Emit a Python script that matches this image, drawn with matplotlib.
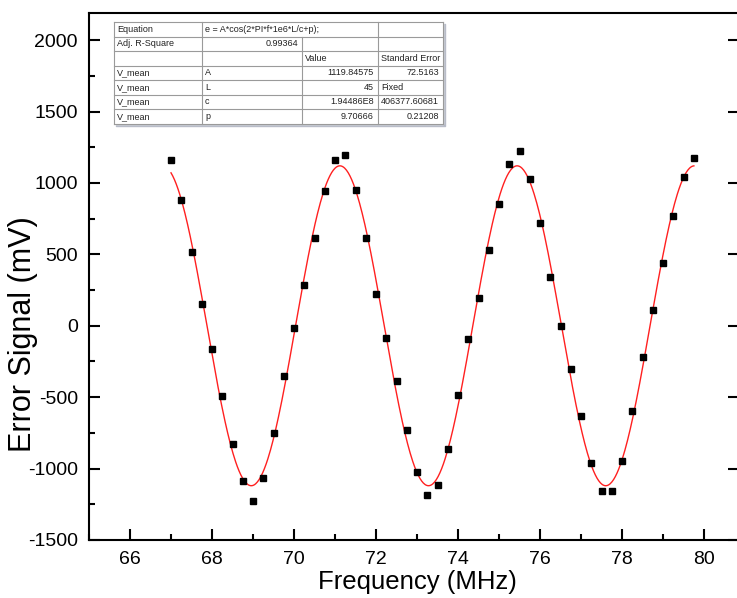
import numpy as np
import matplotlib
matplotlib.use("Agg")
import matplotlib.pyplot as plt
from matplotlib.ticker import MultipleLocator

plt.rcParams['font.family'] = ['Liberation Sans', 'DejaVu Sans']
plt.rcParams['axes.unicode_minus'] = False

# measured points (MHz, mV)
freq = [67.0, 67.25, 67.5, 67.75, 68.0, 68.25, 68.5, 68.75, 69.0, 69.25, 69.5, 69.75,
        70.0, 70.25, 70.5, 70.75, 71.0, 71.25, 71.5, 71.75, 72.0, 72.25, 72.5, 72.75,
        73.0, 73.25, 73.5, 73.75, 74.0, 74.25, 74.5, 74.75, 75.0, 75.25, 75.5, 75.75,
        76.0, 76.25, 76.5, 76.75, 77.0, 77.25, 77.5, 77.75, 78.0, 78.25, 78.5, 78.75,
        79.0, 79.25, 79.5, 79.75]
v_mean = [1163, 879, 515, 153, -162, -494, -830, -1085, -1225, -1064, -751, -354,
          -13, 288, 617, 942, 1163, 1196, 951, 617, 225, -83, -384, -732,
          -1026, -1185, -1115, -860, -487, -95, 197, 529, 854, 1135, 1224, 1026,
          718, 340, -4, -300, -634, -961, -1155, -1155, -947, -599, -216, 111,
          438, 769, 1044, 1175]

# fit parameters as reported in the table
fit_A = 1119.84575
fit_L = 45
fit_c = 1.94486e8
fit_p = 9.70666
adj_r2 = "0.99364"

table_rows = [
    ["V_mean", "A", "1119.84575", "72.5163"],
    ["V_mean", "L", "45", "Fixed"],
    ["V_mean", "c", "1.94486E8", "406377.60681"],
    ["V_mean", "p", "9.70666", "0.21208"],
]

fig = plt.figure(figsize=(7.37, 5.98), dpi=100)
ax = fig.add_axes([89/737, 58/598, 650/737, 527/598])

f_fit = np.linspace(min(freq), max(freq), 600)
e_fit = fit_A * np.cos(2*np.pi*f_fit*1e6*fit_L/fit_c + fit_p)
ax.plot(f_fit, e_fit, color='#ff2020', lw=1.0, zorder=2)
ax.plot(freq, v_mean, ls='none', marker='s', ms=5, color='black', zorder=3)

ax.set_xlim(65, 80.85)
ax.set_ylim(-1500, 2190)
ax.xaxis.set_major_locator(MultipleLocator(2))
ax.xaxis.set_minor_locator(MultipleLocator(1))
ax.yaxis.set_major_locator(MultipleLocator(500))
ax.yaxis.set_minor_locator(MultipleLocator(250))
ax.tick_params(which='both', direction='in', width=1.5, labelsize=14, pad=8)
ax.tick_params(which='major', length=8)
ax.tick_params(which='minor', length=4.5)
ax.tick_params(axis='y', which='major', right=True)
for s in ax.spines.values():
    s.set_linewidth(1.5)
ax.set_xlabel("Frequency (MHz)", fontsize=18.5)
ax.set_ylabel("Error Signal (mV)", fontsize=22)
ax.xaxis.set_label_coords(0.505, -0.057)
ax.yaxis.set_label_coords(-0.078, 0.39)

# results table drawn in pixel coordinates on an overlay
tab = fig.add_axes([0, 0, 1, 1])
tab.set_xlim(0, 737)
tab.set_ylim(598, 0)
tab.axis('off')

x0, y0, rh = 114, 22, 14.5
cols = [114, 202, 302, 378, 443]
y_end = y0 + 7 * rh
lc = '#9a9a9a'
tab.fill_between([x0 + 2, cols[-1] + 2], y0 + 2, y_end + 2, color='#b8bcc8', zorder=1)
tab.fill_between([x0, cols[-1]], y0, y_end, color='white', zorder=2)
for i in range(8):
    tab.plot([x0, cols[-1]], [y0 + i*rh]*2, color=lc, lw=0.8, zorder=3)
tab.plot([cols[0]]*2, [y0, y_end], color=lc, lw=0.8, zorder=3)
tab.plot([cols[1]]*2, [y0, y_end], color=lc, lw=0.8, zorder=3)
tab.plot([cols[2]]*2, [y0 + rh, y_end], color=lc, lw=0.8, zorder=3)
tab.plot([cols[3]]*2, [y0, y_end], color=lc, lw=0.8, zorder=3)
tab.plot([cols[4]]*2, [y0, y_end], color=lc, lw=0.8, zorder=3)

fs = 6.5
def cell(r, c, text, align='left'):
    yc = y0 + (r + 0.5) * rh
    if align == 'left':
        tab.text(cols[c] + 3, yc, text, fontsize=fs, color='#222222',
                 ha='left', va='center', zorder=4)
    else:
        tab.text(cols[c + 1] - 4, yc, text, fontsize=fs, color='#222222',
                 ha='right', va='center', zorder=4)

cell(0, 0, "Equation")
cell(0, 1, "e = A*cos(2*PI*f*1e6*L/c+p);")
cell(1, 0, "Adj. R-Square")
cell(1, 1, adj_r2, 'right')
cell(2, 2, "Value")
cell(2, 3, "Standard Error")
for k, row in enumerate(table_rows):
    cell(3 + k, 0, row[0])
    cell(3 + k, 1, row[1])
    cell(3 + k, 2, row[2], 'right')
    if row[3] == "Fixed":
        cell(3 + k, 3, row[3])
    else:
        cell(3 + k, 3, row[3], 'right')

fig.savefig("out.png", dpi=100)
